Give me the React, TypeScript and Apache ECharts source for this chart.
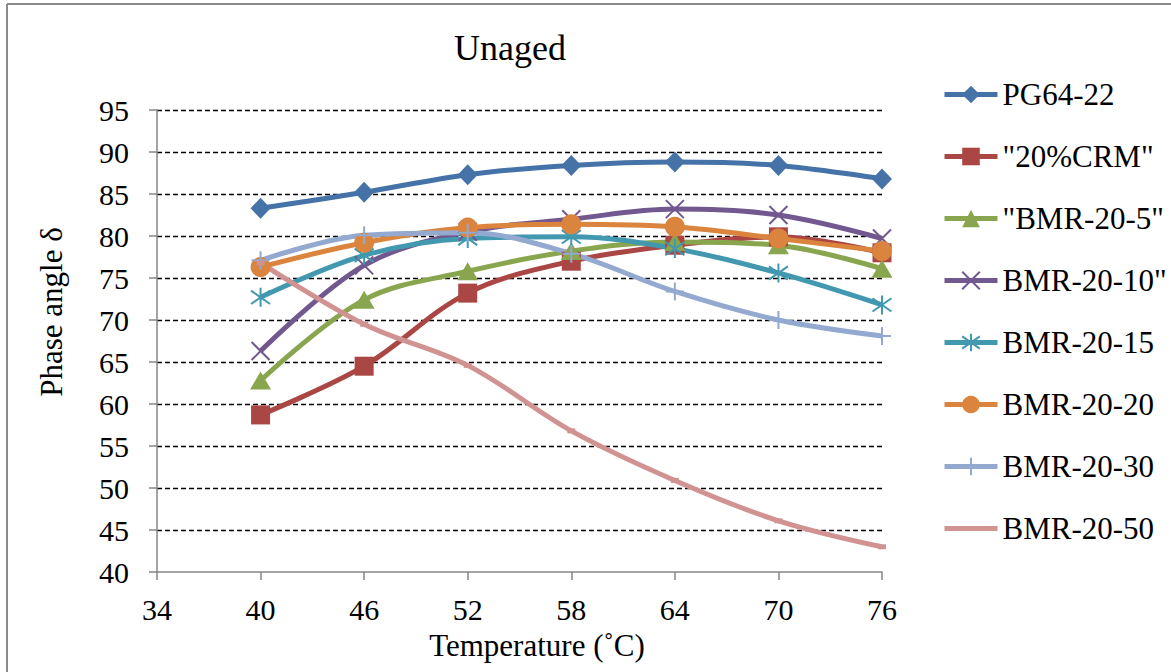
import React, { useEffect, useRef } from "react";
import * as echarts from "echarts";

const temperatures = [40, 46, 52, 58, 64, 70, 76];
const seriesNames = [
  "PG64-22",
  "\"20%CRM\"",
  "\"BMR-20-5\"",
  "BMR-20-10\"",
  "BMR-20-15",
  "BMR-20-20",
  "BMR-20-30",
  "BMR-20-50",
];
const pg6422 = [83.3, 85.2, 87.3, 88.4, 88.8, 88.4, 86.8];
const crm20 = [58.7, 64.5, 73.2, 77.0, 78.9, 79.9, 78.0];
const bmr205 = [62.8, 72.4, 75.8, 78.2, 79.3, 78.9, 76.1];
const bmr2010 = [66.3, 76.5, 80.5, 82.0, 83.2, 82.5, 79.7];
const bmr2015 = [72.7, 77.7, 79.7, 79.9, 78.5, 75.6, 71.8];
const bmr2020 = [76.3, 79.2, 81.0, 81.4, 81.1, 79.7, 78.2];
const bmr2030 = [77.1, 80.1, 80.4, 77.9, 73.4, 70.0, 68.1];
const bmr2050 = [76.8, 69.5, 64.6, 56.8, 50.9, 46.1, 43.0];
const yTicks = { min: 40, max: 95, interval: 5 };
const xTicks = { min: 34, max: 76, interval: 6 };

const FONT = "'Liberation Serif', 'Times New Roman', serif";

export default function App() {
  const ref = useRef<HTMLDivElement>(null);
  useEffect(() => {
    if (!ref.current) return;
    const chart = echarts.init(ref.current, null, { renderer: "svg" });
    const allValues = [pg6422, crm20, bmr205, bmr2010, bmr2015, bmr2020, bmr2030, bmr2050];
    const colors = ["#4572A7", "#AA4643", "#89A54E", "#71588F", "#4198AF", "#DB843D", "#93A9CF", "#D19392"];
    const symbols: any[] = [
      { symbol: "diamond", size: [20, 21], border: 0 },
      { symbol: "rect", size: 19, border: 0 },
      { symbol: "triangle", size: [21, 18], border: 0 },
      { symbol: "path://M0,0L10,10M10,0L0,10", size: 18, border: 2 },
      { symbol: "path://M5,0L5,10M0,1.5L10,8.5M10,1.5L0,8.5", size: 19, border: 2 },
      { symbol: "circle", size: 20, border: 0 },
      { symbol: "path://M5,0L5,10M0,5L10,5", size: 18, border: 2 },
      { symbol: "rect", size: [8, 5], border: 0 },
    ];
    const series = allValues.map((vals, i) => ({
      name: seriesNames[i],
      type: "line",
      smooth: 0.35,
      data: temperatures.map((t, j) => [t, vals[j]]),
      symbol: symbols[i].symbol,
      symbolSize: symbols[i].size,
      showAllSymbol: true,
      lineStyle: { color: colors[i], width: 5 },
      itemStyle: {
        color: colors[i],
        borderColor: colors[i],
        borderWidth: symbols[i].border,
      },
      emphasis: { disabled: true },
    }));
    const legendData = seriesNames.map((n, i) =>
      i === 7
        ? { name: n, icon: "path://M0,0L53,0L53,5L0,5Z" }
        : { name: n }
    );
    chart.setOption({
      animation: false,
      backgroundColor: "#ffffff",
      textStyle: { fontFamily: FONT },
      grid: { left: 157, right: 289, top: 110, bottom: 100, containLabel: false },
      xAxis: {
        type: "value",
        min: xTicks.min,
        max: xTicks.max,
        interval: xTicks.interval,
        axisLine: { show: true, lineStyle: { color: "#868686", width: 1.5 } },
        axisTick: { show: true, length: 8, lineStyle: { color: "#868686", width: 1.5 } },
        axisLabel: { color: "#000", fontSize: 30, fontFamily: FONT, margin: 22 },
        splitLine: { show: false },
      },
      yAxis: {
        type: "value",
        min: yTicks.min,
        max: yTicks.max,
        interval: yTicks.interval,
        axisLine: { show: true, lineStyle: { color: "#868686", width: 1.5 } },
        axisTick: { show: true, length: 8, lineStyle: { color: "#868686", width: 1.5 } },
        axisLabel: { color: "#000", fontSize: 30, fontFamily: FONT, margin: 28 },
        splitLine: {
          show: true,
          showMinLine: false,
          lineStyle: { color: "#000", width: 1.3, type: [5, 3] },
        },
      },
      legend: {
        orient: "vertical",
        left: 942,
        top: 79,
        padding: 0,
        itemWidth: 53,
        itemHeight: 22,
        itemGap: 31,
        lineStyle: { width: 5 },
        textStyle: { fontSize: 31, lineHeight: 31, color: "#000", fontFamily: FONT },
        data: legendData,
      },
      graphic: [
        { type: "line", shape: { x1: 7, y1: 4, x2: 1171, y2: 4 }, style: { stroke: "#8a8a8a", lineWidth: 2 } },
        { type: "line", shape: { x1: 7, y1: 4, x2: 7, y2: 672 }, style: { stroke: "#8a8a8a", lineWidth: 2 } },
        {
          type: "text",
          x: 510,
          y: 48,
          style: { text: "Unaged", font: `36px ${FONT}`, fill: "#000", align: "center", verticalAlign: "middle" },
        },
        {
          type: "text",
          x: 537,
          y: 645,
          style: { text: "Temperature (˚C)", font: `31px ${FONT}`, fill: "#000", align: "center", verticalAlign: "middle" },
        },
        {
          type: "text",
          x: 51,
          y: 312,
          rotation: Math.PI / 2,
          style: { text: "Phase angle δ", font: `31px ${FONT}`, fill: "#000", align: "center", verticalAlign: "middle" },
        },
      ],
      series,
    });
    return () => chart.dispose();
  }, []);
  return (
    <div
      ref={ref}
      style={{ position: "fixed", left: 0, top: 0, width: 1171, height: 672, background: "#fff" }}
    />
  );
}
